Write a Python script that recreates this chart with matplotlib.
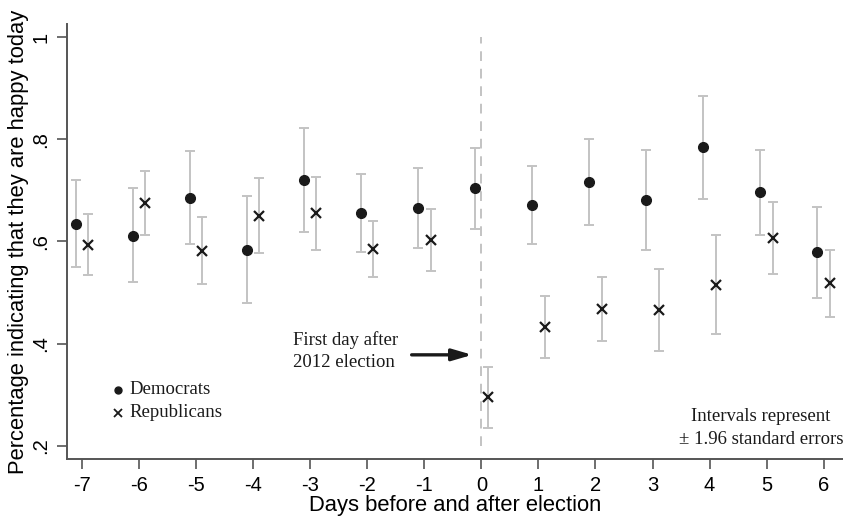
import numpy as np
import matplotlib
matplotlib.use('Agg')
import matplotlib.pyplot as plt

# days relative to the 2012 election
days = [-7, -6, -5, -4, -3, -2, -1, 0, 1, 2, 3, 4, 5, 6]

dem = [0.634, 0.611, 0.686, 0.584, 0.720, 0.656, 0.665, 0.704, 0.672, 0.717, 0.682, 0.785, 0.696, 0.579]
dem_lo = [0.550, 0.520, 0.596, 0.479, 0.618, 0.580, 0.587, 0.624, 0.595, 0.633, 0.584, 0.684, 0.612, 0.490]
dem_hi = [0.720, 0.704, 0.778, 0.690, 0.823, 0.733, 0.744, 0.784, 0.748, 0.801, 0.780, 0.885, 0.780, 0.667]

rep = [0.593, 0.675, 0.582, 0.650, 0.655, 0.586, 0.603, 0.295, 0.433, 0.468, 0.466, 0.515, 0.607, 0.519]
rep_lo = [0.535, 0.613, 0.516, 0.577, 0.584, 0.530, 0.543, 0.234, 0.372, 0.405, 0.386, 0.418, 0.537, 0.453]
rep_hi = [0.654, 0.739, 0.647, 0.724, 0.727, 0.641, 0.664, 0.355, 0.494, 0.531, 0.547, 0.612, 0.678, 0.584]

yticks = [0.2, 0.4, 0.6, 0.8, 1.0]
ytick_labels = ['.2', '.4', '.6', '.8', '1']

SANS = 'Liberation Sans'
SERIF = 'Liberation Serif'
GRAY = '#c3c3c3'
INK = '#1a1a1a'

def main():
   fig = plt.figure(figsize=(8.43, 5.21), dpi=100)
   ax = fig.add_axes([0.0795, 0.119, 0.92, 0.835])

   x = np.array(days, dtype=float)
   d = np.array(dem); r = np.array(rep)
   ax.errorbar(x - 0.11, d, yerr=[d - np.array(dem_lo), np.array(dem_hi) - d], fmt='none',
               ecolor=GRAY, elinewidth=1.4, capsize=3.9, capthick=1.4, zorder=2)
   ax.errorbar(x + 0.11, r, yerr=[r - np.array(rep_lo), np.array(rep_hi) - r], fmt='none',
               ecolor=GRAY, elinewidth=1.4, capsize=3.9, capthick=1.4, zorder=2)
   ax.plot(x - 0.11, d, 'o', color=INK, markersize=7, zorder=3)
   ax.plot(x + 0.11, r, 'x', color=INK, markersize=7, markeredgewidth=1.6, zorder=3)

   ax.vlines(0, 0.2, 1.0, colors=GRAY, linestyles=(0, (5, 4)), linewidth=1.4, zorder=1)

   # annotation with arrow
   ax.annotate('', xy=(-0.11, 0.378), xytext=(-1.27, 0.378),
               arrowprops=dict(arrowstyle='-|>,head_length=1.2,head_width=0.35', color=INK, lw=2.4))
   ax.text(-3.30, 0.385, 'First day after\n2012 election', family=SERIF, fontsize=13.5,
           ha='left', va='center', linespacing=1.35, color=INK)

   # legend drawn as text
   ax.plot(-6.37, 0.310, 'o', color=INK, markersize=5)
   ax.plot(-6.37, 0.265, 'x', color=INK, markersize=5.5, markeredgewidth=1.3)
   ax.text(-6.17, 0.310, 'Democrats', family=SERIF, fontsize=13.5, va='center', color=INK)
   ax.text(-6.17, 0.265, 'Republicans', family=SERIF, fontsize=13.5, va='center', color=INK)

   ax.text(4.90, 0.257, 'Intervals represent', family=SERIF, fontsize=13.5, ha='center', va='center', color=INK)
   ax.text(4.90, 0.212, '\u00b1 1.96 standard errors', family=SERIF, fontsize=13.5, ha='center', va='center', color=INK)

   ax.set_xlim(-7.26, 6.33)
   ax.set_ylim(0.174, 1.026)
   ax.set_xticks(days)
   ax.set_xticklabels([str(v) for v in days], family=SANS, fontsize=14.5)
   ax.set_yticks(yticks)
   ax.set_yticklabels(ytick_labels, family=SANS, fontsize=14.5, rotation=90, va='center')
   ax.tick_params(axis='both', direction='out', length=7, width=1.2, color='#555555', pad=5)

   for s in ['top', 'right']:
      ax.spines[s].set_visible(False)
   for s in ['left', 'bottom']:
      ax.spines[s].set_color('#555555')
      ax.spines[s].set_linewidth(1.4)

   ax.set_xlabel('Days before and after election', family=SANS, fontsize=15.8, labelpad=0)
   ax.set_ylabel('Percentage indicating that they are happy today', family=SANS, fontsize=15.8, labelpad=2)

   fig.savefig('out.png', dpi=100)
   plt.close(fig)

if __name__ == '__main__':
   main()
